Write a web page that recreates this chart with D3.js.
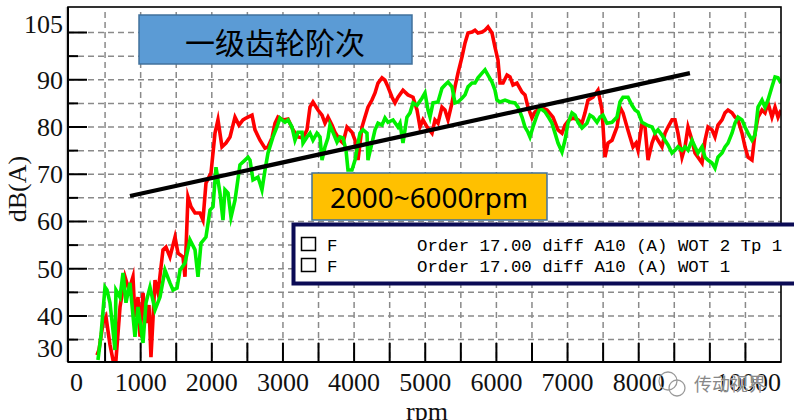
<!DOCTYPE html>
<html><head><meta charset="utf-8">
<script src="https://cdn.jsdelivr.net/npm/d3@7"></script>
<style>body{margin:0;background:#fff}svg{display:block}</style>
</head><body><svg id="c" width="794" height="420"></svg>
<script>
// ---------------- data ----------------
const rpmDomain = [0, 10000];
const dbDomain = [30.26, 105.4];
const rpmTicks = [0,1000,2000,3000,4000,5000,6000,7000,8000,9000,10000];
const rpmTickLabels = ["0","1000","2000","3000","4000","5000","6000","7000","8000","","10000"];
const dbTicks = [30,40,50,60,70,80,90,100,105];
const dbTickLabels = ["30","40","50","60","70","80","90","","105"];

const redRpm = [386,414,471,513,569,611,653,710,780,836,892,920,963,991,1033,1075,1117,1145,1202,1244,1314,1356,1412,1483,1525,1595,1623,1665,1708,1764,1834,1876,1918,1989,2045,2087,2143,2199,2256,2326,2382,2438,2481,2565,2607,2677,2748,2790,2846,2888,2930,3001,3071,3141,3211,3282,3338,3380,3422,3492,3549,3591,3633,3689,3731,3802,3844,3900,3970,4013,4055,4111,4153,4195,4251,4294,4336,4392,4434,4476,4533,4575,4617,4687,4757,4828,4884,4926,4968,5025,5095,5137,5179,5235,5277,5320,5376,5418,5460,5516,5559,5601,5657,5699,5741,5798,5840,5882,5938,5980,6022,6051,6093,6149,6191,6233,6289,6360,6402,6444,6500,6542,6585,6655,6711,6795,6866,6922,6964,7020,7077,7147,7203,7245,7287,7358,7428,7484,7526,7568,7625,7695,7737,7779,7836,7878,7920,7962,7990,8046,8089,8131,8187,8229,8271,8327,8370,8412,8468,8510,8552,8609,8651,8693,8749,8791,8833,8890,8932,8974,9030,9072,9114,9171,9213,9255,9311,9353,9396,9452,9494,9536,9592,9635,9677,9733,9775,9817,9873,9916,9958,10000];
const redDb = [31.7,32.8,38.5,39.8,33.9,30.7,30.7,41.9,48.3,45.5,48.3,39.8,44.0,35.6,44.9,38.5,42.3,31.3,47.6,44.9,54.0,54.6,52.5,56.7,53.3,52.5,48.3,65.2,63.1,61.8,61.8,60.3,68.1,70.3,78.7,81.5,75.8,76.6,77.9,82.1,80.4,81.5,81.9,82.5,79.4,77.2,75.5,75.8,77.7,80.8,82.1,81.5,81.7,79.4,77.9,77.7,79.4,84.2,85.3,83.6,82.5,80.8,82.1,80.4,78.9,77.2,76.6,80.0,78.9,77.2,73.0,80.0,82.1,84.2,85.7,87.2,89.3,90.4,89.9,88.5,86.3,85.1,86.3,87.8,86.8,86.3,83.6,80.0,81.5,80.0,78.7,81.5,80.8,84.2,83.6,81.5,85.1,88.5,91.4,94.8,97.8,99.9,100.1,100.5,99.9,100.1,100.5,101.2,99.9,96.9,94.2,89.3,89.3,91.0,90.6,88.9,89.3,87.4,86.8,84.2,81.9,83.2,83.6,84.0,83.6,82.1,79.4,78.7,80.4,81.5,81.9,81.5,80.8,83.0,85.7,86.3,87.8,83.6,73.6,76.6,77.2,80.0,84.2,83.0,80.0,77.9,75.8,76.6,75.1,80.8,80.0,73.0,76.6,78.3,77.2,75.8,78.7,80.0,81.5,81.5,78.7,73.6,75.8,80.0,77.2,74.5,73.6,72.4,77.2,80.0,79.4,77.9,80.4,81.5,83.0,83.6,83.0,82.1,81.5,78.7,75.8,73.6,73.0,78.7,82.1,83.6,83.0,85.1,82.1,84.2,82.1,83.6];

const greenRpm = [400,443,499,527,569,611,639,653,710,752,794,850,920,963,1033,1075,1131,1202,1272,1342,1412,1455,1511,1553,1623,1693,1764,1806,1848,1918,1975,2017,2059,2115,2157,2185,2228,2270,2326,2396,2467,2509,2537,2579,2649,2677,2705,2748,2790,2860,2916,2958,3029,3071,3127,3169,3211,3268,3282,3338,3380,3422,3478,3521,3549,3591,3633,3661,3703,3760,3802,3844,3886,3914,3970,4013,4055,4083,4125,4181,4195,4251,4294,4336,4392,4434,4476,4547,4617,4645,4687,4743,4786,4828,4884,4954,4996,5039,5067,5109,5179,5235,5277,5320,5376,5418,5460,5516,5559,5601,5657,5699,5741,5798,5840,5882,5938,5980,6008,6051,6121,6191,6261,6304,6360,6402,6444,6472,6514,6571,6613,6683,6739,6781,6824,6866,6922,6964,7006,7062,7105,7147,7203,7273,7315,7358,7414,7456,7498,7554,7625,7695,7737,7779,7850,7906,7948,7990,8046,8117,8187,8229,8271,8327,8370,8412,8468,8510,8552,8609,8651,8693,8749,8791,8833,8890,8932,8974,9030,9072,9114,9171,9213,9255,9311,9353,9396,9452,9494,9536,9592,9635,9677,9733,9775,9817,9873,9916,9958,10000];
const greenDb = [30.7,36.0,46.1,45.5,42.8,37.0,32.8,45.5,44.0,49.1,42.8,47.0,35.6,41.9,34.3,42.8,46.1,41.3,44.0,49.7,47.0,45.5,45.9,49.7,51.2,56.1,54.0,48.3,55.4,56.7,62.4,63.1,71.5,66.0,60.3,66.7,66.0,60.9,64.5,72.0,73.0,73.6,73.0,68.8,69.4,68.1,66.7,70.9,74.5,77.9,80.0,81.9,81.0,81.5,80.0,77.2,78.9,78.9,76.6,77.9,78.7,77.2,78.7,77.9,73.0,75.8,77.7,80.4,78.9,76.8,77.9,77.7,75.1,70.9,70.9,73.0,76.6,78.7,79.4,78.7,73.0,76.6,79.4,80.8,80.4,81.9,81.0,81.5,80.0,80.8,76.6,82.1,83.0,85.1,84.6,86.1,87.2,83.6,82.1,85.1,85.3,88.2,88.9,89.5,88.5,85.1,85.3,86.1,86.8,88.5,89.3,89.3,90.4,91.4,92.1,91.0,89.5,87.8,85.7,85.3,85.7,85.3,85.1,84.2,82.1,80.0,78.9,77.9,80.0,82.5,84.0,83.2,81.9,80.8,78.7,76.6,74.7,77.2,80.8,83.0,82.5,81.0,79.8,80.8,82.5,82.1,81.0,82.1,82.5,80.8,81.0,82.1,85.3,86.3,86.3,84.6,83.6,83.2,81.0,80.4,80.0,78.7,79.4,78.3,77.2,76.2,74.5,75.1,75.8,75.1,75.8,75.1,77.2,75.8,74.5,75.8,73.6,73.0,72.4,71.3,73.6,74.5,75.8,76.6,78.7,80.8,82.1,81.5,80.0,78.7,77.2,78.3,84.2,85.7,84.2,85.7,88.5,90.6,90.4,89.3];

const trendRpm = [850, 8720];
const trendDb = [65.4, 91.4];

const titleText = "一级齿轮阶次";
const rangeText = "2000~6000rpm";
const legendKeys = ["F", "F"];
const legendLabels = ["Order 17.00 diff A10 (A) WOT 2 Tp 1", "Order 17.00 diff A10 (A) WOT 1"];
const xAxisTitle = "rpm";
const yAxisTitle = "dB(A)";
const watermark = "传动视界";

// ---------------- drawing ----------------
const svg = d3.select('#c');
const L = 68, R = 781, T = 7, B = 362;
const x = d3.scaleLinear().domain(rpmDomain).range([69.5, R]);
const y = d3.scaleLinear().domain(dbDomain).range([B, T]);
const serif = "'Liberation Serif','Times New Roman',serif";

svg.append('rect').attr('width',794).attr('height',420).attr('fill','#fff');

// grid
const gridRpm = d3.range(500, 10000, 500);
const gridDb = d3.range(35, 105, 5);
const grid = svg.append('g').attr('stroke','#8a8a8a').attr('stroke-width',1.5).attr('stroke-dasharray','6,4');
grid.selectAll('line.v').data(gridRpm).join('line').attr('class','v')
  .attr('x1',d=>x(d)).attr('x2',d=>x(d)).attr('y1',T+5).attr('y2',B);
grid.selectAll('line.h').data(gridDb).join('line').attr('class','h')
  .attr('x1',L).attr('x2',R).attr('y1',d=>y(d)).attr('y2',d=>y(d));

// ticks
const tk = svg.append('g').attr('stroke','#000').attr('stroke-width',2);
tk.selectAll('line.xt').data(gridRpm).join('line').attr('class','xt')
  .attr('x1',d=>x(d)).attr('x2',d=>x(d)).attr('y1',B).attr('y2',B-19);
tk.selectAll('line.ytM').data(dbTicks.filter(d=>d>30 && d<105)).join('line').attr('class','ytM')
  .attr('x1',L).attr('x2',L+19).attr('y1',d=>y(d)).attr('y2',d=>y(d));
tk.selectAll('line.ytm').data(d3.range(35,100,10)).join('line').attr('class','ytm')
  .attr('x1',L).attr('x2',L+10).attr('y1',d=>y(d)).attr('y2',d=>y(d));

// clip
svg.append('clipPath').attr('id','plot').append('rect')
  .attr('x',L).attr('y',T).attr('width',R-L).attr('height',B-T);

const line = d3.line().x(d=>x(d[0])).y(d=>y(d[1]));
const lines = svg.append('g').attr('clip-path','url(#plot)');
const redData = d3.zip(redRpm, redDb);
const greenData = d3.zip(greenRpm, greenDb);
lines.append('path').datum(redData).attr('d',line).attr('fill','none')
  .attr('stroke','#ff0000').attr('stroke-width',3.6).attr('stroke-miterlimit',6);
lines.append('path').datum(greenData).attr('d',line).attr('fill','none')
  .attr('stroke','#00f000').attr('stroke-width',3.6).attr('stroke-miterlimit',6);
lines.append('path').datum(d3.zip(trendRpm, trendDb)).attr('d',line).attr('fill','none')
  .attr('stroke','#000').attr('stroke-width',4.2);

// frame
svg.append('line').attr('x1',66.5).attr('x2',66.5).attr('y1',T).attr('y2',B).attr('stroke','#c8c8c8').attr('stroke-width',1.5);
svg.append('rect').attr('x',L).attr('y',T).attr('width',R-L).attr('height',B-T)
  .attr('fill','none').attr('stroke','#000').attr('stroke-width',1.6);
svg.append('line').attr('x1',L).attr('x2',L).attr('y1',T).attr('y2',B).attr('stroke','#000').attr('stroke-width',2);
svg.append('line').attr('x1',L).attr('x2',R).attr('y1',B).attr('y2',B).attr('stroke','#000').attr('stroke-width',2);

// x tick labels
svg.append('g').selectAll('text').data(rpmTicks.map((v,i)=>({v,l:rpmTickLabels[i],i}))).join('text')
  .attr('x',d=> d.i===0 ? x(d.v)+0.5 : (d.i===rpmTicks.length-1 ? R : x(d.v)))
  .attr('y',391)
  .attr('text-anchor',d=> d.i===0 ? 'start' : (d.i===rpmTicks.length-1 ? 'end' : 'middle'))
  .attr('font-family',serif).attr('font-size',26).attr('fill','#111')
  .text(d=>d.l);

// y tick labels
svg.append('g').selectAll('text').data(dbTicks.map((v,i)=>({v,l:dbTickLabels[i]}))).join('text')
  .attr('x',63)
  .attr('y',d=> Math.min(348, Math.max(24, y(d.v))) + 9)
  .attr('text-anchor','end')
  .attr('font-family',serif).attr('font-size',26).attr('fill','#111')
  .text(d=>d.l);

// axis titles
svg.append('text').attr('transform','translate(26,189) rotate(-90)')
  .attr('text-anchor','middle').attr('font-family',serif).attr('font-size',26).attr('fill','#111')
  .text(yAxisTitle);
svg.append('text').attr('x',427).attr('y',420).attr('text-anchor','middle')
  .attr('font-family',serif).attr('font-size',26).attr('fill','#111').text(xAxisTitle);

// title box
svg.append('rect').attr('x',139).attr('y',15).attr('width',273).attr('height',49)
  .attr('fill','#5b9bd5').attr('stroke','#41719c').attr('stroke-width',1.5);
svg.append('text').attr('x',275).attr('y',41).attr('text-anchor','middle').attr('dominant-baseline','central')
  .attr('font-family',"'Noto Sans CJK SC','Noto Sans',sans-serif").attr('font-size',30).attr('fill','#000')
  .text(titleText);

// range box
svg.append('rect').attr('x',312).attr('y',173).attr('width',235).attr('height',47)
  .attr('fill','#ffc000').attr('stroke','#41719c').attr('stroke-width',1.5);
svg.append('text').attr('x',330).attr('y',208).attr('textLength',198).attr('lengthAdjust','spacingAndGlyphs')
  .attr('font-family',"'Noto Sans','Open Sans',sans-serif").attr('font-size',27).attr('fill','#000')
  .text(rangeText);

// legend
svg.append('rect').attr('x',293.5).attr('y',224.5).attr('width',540).attr('height',59)
  .attr('fill','#fff').attr('stroke','#0b0b55').attr('stroke-width',4);
const rows = svg.append('g').selectAll('g').data(legendLabels.map((l,i)=>({l,k:legendKeys[i],i}))).join('g')
  .attr('transform',d=>`translate(0,${d.i*21})`);
rows.append('rect').attr('x',301.5).attr('y',237.5).attr('width',14).attr('height',13)
  .attr('fill','#fff').attr('stroke','#000').attr('stroke-width',1.5);
rows.append('text').attr('x',327).attr('y',251).attr('font-family',"'Liberation Mono','DejaVu Sans Mono',monospace")
  .attr('font-size',17.4).attr('fill','#000').text(d=>d.k);
rows.append('text').attr('x',417).attr('y',251).attr('font-family',"'Liberation Mono','DejaVu Sans Mono',monospace")
  .attr('font-size',17.4).attr('fill','#000').text(d=>d.l);

// watermark
const wm = svg.append('g').attr('fill','none').attr('stroke','#9a9a9a').attr('stroke-width',1.3);
wm.append('circle').attr('cx',668).attr('cy',381).attr('r',9);
wm.append('circle').attr('cx',677).attr('cy',388).attr('r',8);
svg.append('text').attr('x',694).attr('y',391).attr('font-family',"'Noto Sans CJK SC',sans-serif")
  .attr('font-size',18).attr('fill','#888').attr('stroke','#fff').attr('stroke-width',0.6).attr('paint-order','stroke')
  .text(watermark);
</script>
</body></html>
